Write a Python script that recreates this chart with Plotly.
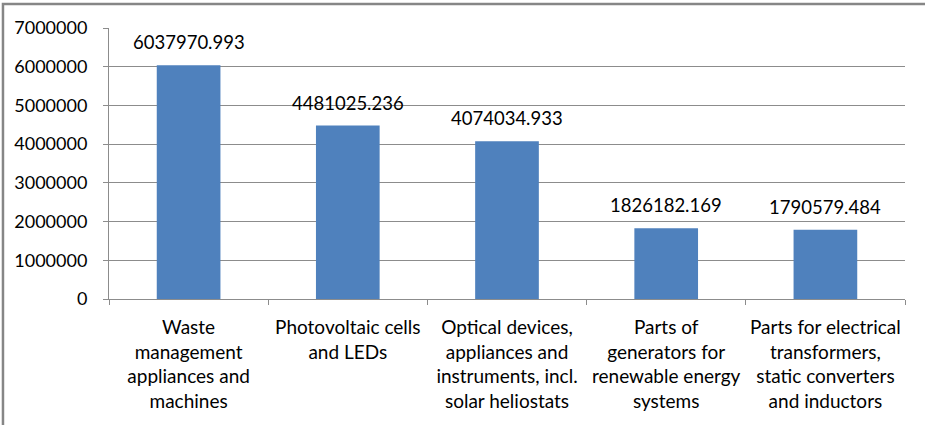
import plotly.graph_objs as go

# categories and values
categories = [
    "Waste<br>management<br>appliances and<br>machines",
    "Photovoltaic cells<br>and LEDs",
    "Optical devices,<br>appliances and<br>instruments, incl.<br>solar heliostats",
    "Parts of<br>generators for<br>renewable energy<br>systems",
    "Parts for electrical<br>transformers,<br>static converters<br>and inductors",
]
values = [6037970.993, 4481025.236, 4074034.933, 1826182.169, 1790579.484]
y_ticks = [0, 1000000, 2000000, 3000000, 4000000, 5000000, 6000000, 7000000]

FONT = "Lato"
GRID = "#8c8c8c"

fig = go.Figure()
fig.add_trace(go.Bar(x=categories, y=values, marker=dict(color="#4F81BD", line=dict(width=0))))

# value labels above the bars
for cat, val in zip(categories, values):
    fig.add_annotation(x=cat, y=val, text=f"{val:.3f}", showarrow=False,
                       yanchor="bottom", yshift=10, font=dict(family=FONT, size=18.5, color="#000"))

# outer chart frame (right/bottom edges fall outside the picture)
fig.add_shape(type="rect", xref="paper", yref="paper", x0=-0.1332, x1=1.2, y0=-0.8, y1=1.0886,
              line=dict(color="#868686", width=2.5), layer="above")

fig.update_layout(
    width=925, height=425,
    margin=dict(l=109, r=20, t=28, b=126, autoexpand=False),
    paper_bgcolor="white", plot_bgcolor="white",
    bargap=0.6, showlegend=False,
    font=dict(family=FONT, size=18, color="#000"),
)
fig.update_yaxes(range=[0, 7000000], tickvals=y_ticks, ticktext=[str(v) for v in y_ticks],
                 showgrid=True, gridcolor=GRID, gridwidth=1,
                 showline=True, linecolor=GRID, linewidth=1,
                 ticks="outside", ticklen=5, tickcolor=GRID, ticklabelstandoff=12,
                 zeroline=False, fixedrange=True, automargin=False)
fig.update_xaxes(showline=True, linecolor=GRID, linewidth=1,
                 ticks="outside", ticklen=5, tickcolor=GRID, tickson="boundaries",
                 tickangle=0, ticklabelstandoff=11, tickfont=dict(size=19),
                 fixedrange=True, automargin=False)

# page body has a default 8px margin; drop it so the figure sits at the corner
fig.write_html("out.html", config={"displayModeBar": False},
               post_script="document.body.style.margin='0px';")
